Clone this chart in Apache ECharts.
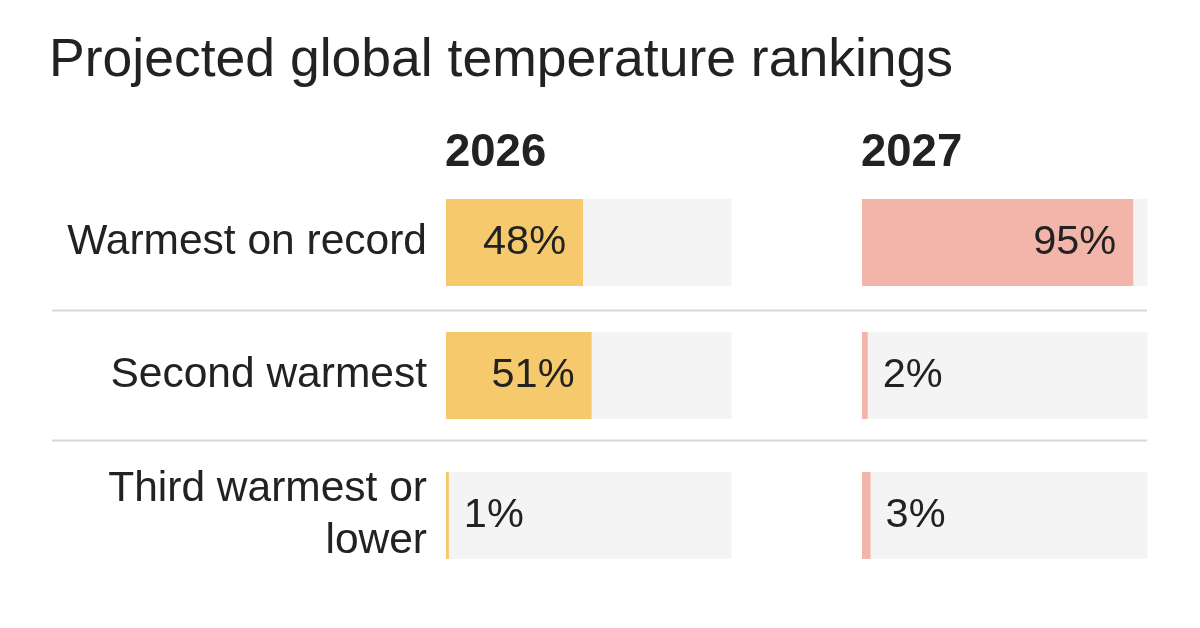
<!DOCTYPE html>
<html>
<head>
<meta charset="utf-8">
<script src="https://cdn.jsdelivr.net/npm/echarts@6/dist/echarts.min.js"></script>
<style>
  html, body { margin: 0; padding: 0; background: #ffffff; }
  #chart { width: 1200px; height: 628px; }
</style>
</head>
<body>
<div id="chart"></div>
<script>
// ---- data ----
const chartTitle = 'Projected global temperature rankings';
const categories = ['Warmest on record', 'Second warmest', 'Third warmest or\nlower'];
const years = ['2026', '2027'];
const values2026 = [48, 51, 1];
const values2027 = [95, 2, 3];

// ---- layout / style ----
const FONT = '"Liberation Sans", Arial, sans-serif';
const TEXT = '#222222';
const panelLeft = [446, 862];
const panelWidth = 285.5;
const rowTop = [199, 332, 472];
const rowHeight = 87;
const labelPadTop = [4, 4, 8];
const barColors = ['#f6c96c', '#f3b4aa'];
const trackColor = '#f4f4f4';
const sepY = [310.5, 440.5];

const seriesValues = [values2026, values2027];

const grids = [], xAxes = [], yAxes = [], series = [];
for (let p = 0; p < years.length; p++) {
  for (let r = 0; r < categories.length; r++) {
    const idx = grids.length;
    grids.push({ left: panelLeft[p], width: panelWidth, top: rowTop[r], height: rowHeight, containLabel: false });
    xAxes.push({ type: 'value', gridIndex: idx, min: 0, max: 100, show: false });
    yAxes.push({
      type: 'category', gridIndex: idx, data: [categories[r]],
      axisLine: { show: false }, axisTick: { show: false },
      axisLabel: {
        show: p === 0, fontFamily: FONT, fontSize: 42.5, color: TEXT,
        margin: 19, lineHeight: 52, align: 'right',
        padding: [labelPadTop[r], 0, 0, 0]
      }
    });
    const v = seriesValues[p][r];
    const big = v >= 20;
    series.push({
      type: 'bar', xAxisIndex: idx, yAxisIndex: idx,
      barWidth: '100%',
      showBackground: true,
      backgroundStyle: { color: trackColor },
      itemStyle: { color: barColors[p] },
      label: {
        show: true,
        position: big ? 'insideRight' : 'right',
        distance: big ? 17 : 15,
        formatter: '{c}%',
        fontFamily: FONT, fontSize: 41.5, color: TEXT
      },
      data: [v],
      silent: true,
      animation: false
    });
  }
}

const chart = echarts.init(document.getElementById('chart'), null, { renderer: 'canvas' });
chart.setOption({
  backgroundColor: '#ffffff',
  animation: false,
  title: [
    { text: chartTitle, left: 49, top: 34, padding: 0,
      textStyle: { fontFamily: FONT, fontSize: 53.5, fontWeight: 'normal', color: TEXT } },
    { text: years[0], left: panelLeft[0] - 1, top: 130, padding: 0,
      textStyle: { fontFamily: FONT, fontSize: 45.5, fontWeight: 'bold', color: TEXT } },
    { text: years[1], left: panelLeft[1] - 1, top: 130, padding: 0,
      textStyle: { fontFamily: FONT, fontSize: 45.5, fontWeight: 'bold', color: TEXT } }
  ],
  grid: grids,
  xAxis: xAxes,
  yAxis: yAxes,
  series: series,
  graphic: sepY.map(y => ({
    type: 'line', silent: true,
    shape: { x1: 52, y1: y, x2: 1147, y2: y },
    style: { stroke: '#d8d8d8', lineWidth: 2 }
  }))
});
</script>
</body>
</html>
